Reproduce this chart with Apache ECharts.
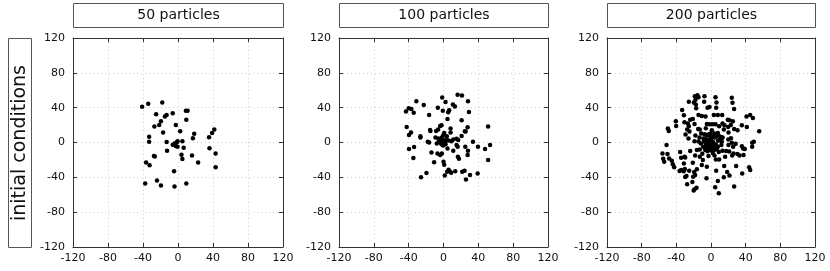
<!DOCTYPE html>
<html>
<head>
<meta charset="utf-8">
<script src="https://cdn.jsdelivr.net/npm/echarts@6/dist/echarts.min.js"></script>
<style>html,body{margin:0;padding:0;background:#fff}#c{width:830px;height:271px}</style>
</head>
<body>
<div id="c"></div>
<script>
const panelTitles = ['50 particles', '100 particles', '200 particles'];
const rowLabel = 'initial conditions';
const axisMin = -120, axisMax = 120, axisStep = 40;

const p50 = [[-41,41],[-34,44.5],[-18,46],[-25,32.5],[-15,30],[-13,31.5],[-6,33.5],[9,36.5],[11,36.5],[9.5,26],
[-19.5,24.5],[-21.5,20],[-27,18.5],[-2.5,20],[2.5,13],[-17,11.5],[-33,6.5],[-33,1],[-13,0.5],[-6,-2.5],
[-3.5,-1],[-1,0.5],[-0.5,1.5],[-2.5,-4],[-0.5,-5],[5,1.5],[6.5,-6],[4,-14],[5,-19],[16,-15],
[23,-23],[-4.5,-33],[-12.5,-9.5],[-27.5,-15.5],[-36.5,-23],[-32.5,-26],[-37.5,-47],[-24,-43.5],[-19.5,-49.5],[-4,-50.5],
[9.5,-47],[17,5],[18.5,10],[35.5,6],[39,11],[41.5,15],[36,-6.5],[43,-12.5],[43,-28.5],[-26.5,-16]];

const p100 = [[16.2,54.8],[21.2,54],[-1.5,51.7],[-31.2,47.5],[2.3,46.4],[28.1,47.5],[-22.7,43],[10.8,43.7],[13.1,41.4],[-6.5,39.9],
[-40,39.2],[-36.9,38.4],[-43.1,35.7],[-34.2,34.2],[-0.8,36.5],[6.5,36.9],[5.4,34.6],[29.2,35],[-16.5,31.6],[4.6,27],
[20.8,25.5],[-42.3,17.9],[51.2,18.3],[27.7,17.5],[24.5,12.8],[-3.8,19],[-2.3,19.8],[8.1,16],[-15,13.3],[-15.4,14.4],
[-8.5,13.3],[-6.2,14.8],[-37.3,11.4],[-39.6,8.7],[25.4,12.5],[8.1,11.4],[20.8,7.6],[-26.5,7.2],[-26.5,5.7],[0.8,11],
[-0.4,8],[3.8,7.2],[-1.9,5.7],[-9.2,5.7],[-5.8,4.6],[-3.8,3.4],[0.8,2.7],[3.5,2.7],[-18.1,0.8],[-16.5,0],
[-5.4,1.1],[-3.1,0.4],[-1.2,1.5],[1.5,0],[5.8,2.3],[9.2,1.5],[11.2,3.4],[15,4.2],[16.9,3],[33.8,0.8],
[39.6,-4.9],[47.7,-7.6],[53.5,-3],[51.2,-20.2],[25,-4.9],[28.1,-9.5],[15,-3],[16.2,-4.9],[-2.3,-1.9],[-0.4,-3.4],
[2.3,-1.9],[-39.6,-7.6],[-33.8,-5.3],[-13.8,-11.4],[-6.9,-12.5],[-1.9,-12.5],[-3.8,-14.4],[16.5,-16.3],[17.7,-18.6],[11.2,-9.5],
[27.7,-14.4],[-34.6,-17.9],[-10.8,-22.8],[0,-22.1],[0.8,-25.5],[5.8,-31.2],[4.2,-33.5],[8.8,-34.6],[13.5,-33.1],[1.5,-38],
[-19.6,-35],[-25.8,-39.9],[21.5,-33.5],[24.2,-32.3],[25.8,-42.6],[30.4,-37.3],[39.2,-35.7],[6.9,-32.7],[-7.7,-1.1],[4.6,-6.8]];

const p200 = [[-15.6,54.4],[-14.4,52.1],[-18.7,53.2],[-7.5,53.2],[5.2,52.1],[24,51.3],[-25.6,46.8],[-17.9,49],[-19.8,46],[-7.9,46.8],
[6.3,46],[24.8,45.6],[-17.5,43.7],[-33.3,37.3],[-4,39.9],[-1.7,40.7],[6,39.9],[26.7,38.4],[-17.1,39.2],[-31.3,31.2],
[-14.4,31.6],[-10.6,30.4],[-6.3,30],[3.3,31.6],[7.9,31.6],[12.9,31.6],[41,30],[45.2,31.6],[48.3,28.1],[19.4,26.2],
[21.3,25.5],[-24,26.2],[25.2,24.3],[-40.6,24.3],[-30.6,23.2],[-26.7,21.7],[-25.6,18.6],[-40.2,19],[-19,21.3],[-4.8,21.3],
[-1.7,20.9],[1.7,20.9],[5.2,20.9],[9.4,18.6],[13.3,21.7],[15.6,19.8],[19.8,17.9],[22.9,20.2],[26.7,15.6],[30.6,14.1],
[35.6,19.8],[41.3,17.9],[55.6,12.9],[-49.8,16],[-48.7,13.3],[-27.5,14.8],[-24.8,12.5],[-14.8,15.6],[-12.9,14.8],[-6,16.3],
[1,14.1],[-11.3,10.3],[-7.5,9.5],[-2.9,9.1],[3.7,10.3],[7.9,11],[14.8,14.8],[20.2,11.4],[-26,4.6],[-29.4,9.1],
[-13.3,5.7],[-8.7,4.6],[-5.2,3.8],[-1.7,2.7],[4,5.7],[11,6.5],[13.3,5.7],[-51.3,-3],[-19,1.5],[-14.4,1.1],
[-11.7,-1.1],[-6.7,0],[-4.4,0],[-2.9,-2.3],[-1,-1.1],[1,-1.9],[2.9,-1.1],[6,-3],[7.9,1.9],[12.5,0.8],
[20.2,-3],[24,-0.4],[25.6,-4.9],[35.6,-4.2],[37.1,-6.8],[47.5,-0.4],[49.4,0.8],[47.5,-4.9],[-35.6,-11],[-24,-9.9],
[-16.3,-8.7],[-12.9,-8],[-9,-4.9],[-6.7,-8.7],[-2.9,-6.1],[-0.2,-6.8],[3.3,-8.7],[6.7,-8],[13.3,-9.5],[17.5,-9.9],
[21,-10.3],[26,-12.5],[30.6,-13.3],[32.9,-14.8],[-56,-12.5],[-50.2,-13.3],[-55.2,-18.6],[-48.3,-18.3],[-29.8,-17.1],[-18.3,-14.8],
[-12.9,-16.3],[-9.4,-20.2],[-2.9,-15.6],[5.6,-19.4],[9.4,-19.4],[16.3,-16.3],[24.4,-14.8],[37.5,-14.4],[-54,-22.1],[-45.2,-20.9],
[-31.3,-24],[-21,-23.2],[-10.6,-25.9],[-4.8,-27.8],[15.2,-27],[29,-27],[-42.5,-28.5],[-34.4,-31.6],[-36.3,-32.7],[-30.2,-30.4],
[-25.2,-32.3],[-19.4,-33.8],[-16.3,-30.8],[6,-32.3],[18.7,-33.8],[44,-28.5],[45.2,-31.6],[-28.3,-38.4],[-29.8,-39.5],[-20.6,-39.2],
[-18.3,-37.3],[-5.2,-41.1],[14.8,-39.9],[21.3,-38],[36,-35.7],[-27.5,-47.9],[-19,-53.6],[-16.7,-52.1],[4.8,-51.3],[7.9,-44.1],
[26.7,-50.6],[9,-58.2],[-3,3],[0,4],[2,1],[4,-2],[1,-4],[-2,-6],[3,-6],[5,-4],
[0,-9],[-4,-10],[8,-5],[9,-11],[2,-12],[-6,-4],[-8,2],[10,3],[12,-3],[-1,7],
[6,7],[-10,-13],[4,-15],[-21,27],[-18,8],[-5.5,8.5],[-1,10],[2,6.5],[8.5,8],[13,5.5],
[20,3.5],[23,5],[28.5,-1.5],[39,-7.5],[-34.5,-17.5],[-30.5,-16.5],[-21.5,-45.5],[-20,-55],[-44,-25],[-31.5,-33]];

const panelData = [p50, p100, p200];

const FONT = "'DejaVu Sans', sans-serif";
const frameColor = '#333';
const gridBoxes = [
  {left: 73, top: 38, width: 210, height: 209},
  {left: 339, top: 38, width: 209, height: 209},
  {left: 607, top: 38, width: 208, height: 209}
];

const chart = echarts.init(document.getElementById('c'), null, {renderer: 'canvas'});

const xAxes = [], yAxes = [], series = [], graphics = [];
gridBoxes.forEach((g, i) => {
  const common = {
    gridIndex: i, type: 'value', min: axisMin, max: axisMax, interval: axisStep,
    axisLine: {show: true, onZero: false, lineStyle: {color: frameColor, width: 1}},
    axisTick: {show: true, inside: true, length: 4, lineStyle: {color: frameColor}},
  };
  xAxes.push(Object.assign({}, common, {
    position: 'bottom',
    axisLabel: {show: true, color: '#111', fontFamily: FONT, fontSize: 11, margin: 6},
    splitLine: {show: true, lineStyle: {color: '#cfcfcf', type: [1, 3], width: 1}}
  }));
  xAxes.push(Object.assign({}, common, {
    position: 'top', axisLabel: {show: false}, splitLine: {show: false}
  }));
  yAxes.push(Object.assign({}, common, {
    position: 'left',
    axisLabel: {show: true, color: '#111', fontFamily: FONT, fontSize: 11, margin: 8},
    splitLine: {show: true, lineStyle: {color: '#cfcfcf', type: [1, 3], width: 1}}
  }));
  yAxes.push(Object.assign({}, common, {
    position: 'right', axisLabel: {show: false}, splitLine: {show: false}
  }));
  series.push({
    type: 'scatter', xAxisIndex: i * 2, yAxisIndex: i * 2,
    data: panelData[i], symbol: 'circle', symbolSize: 4.5,
    itemStyle: {color: '#000', opacity: 1}, silent: true, animation: false
  });
  graphics.push({
    type: 'group', left: g.left, top: 3,
    children: [
      {type: 'rect', shape: {x: 0, y: 0, width: g.width, height: 24},
       style: {fill: '#fff', stroke: '#555', lineWidth: 1}},
      {type: 'text', x: g.width / 2, y: 12,
       style: {text: panelTitles[i], fill: '#111', font: "14px " + FONT, textAlign: 'center', textVerticalAlign: 'middle'}}
    ]
  });
});

graphics.push({
  type: 'group', left: 8, top: 38,
  children: [
    {type: 'rect', shape: {x: 0, y: 0, width: 23, height: 209},
     style: {fill: '#fff', stroke: '#555', lineWidth: 1}},
    {type: 'text', x: 12, y: 104.5, rotation: Math.PI / 2,
     style: {text: rowLabel, fill: '#111', font: "19px " + FONT, textAlign: 'center', textVerticalAlign: 'middle'}}
  ]
});

chart.setOption({
  animation: false,
  grid: gridBoxes.map(g => Object.assign({containLabel: false}, g)),
  xAxis: xAxes,
  yAxis: yAxes,
  series: series,
  graphic: graphics
});
</script>
</body>
</html>
